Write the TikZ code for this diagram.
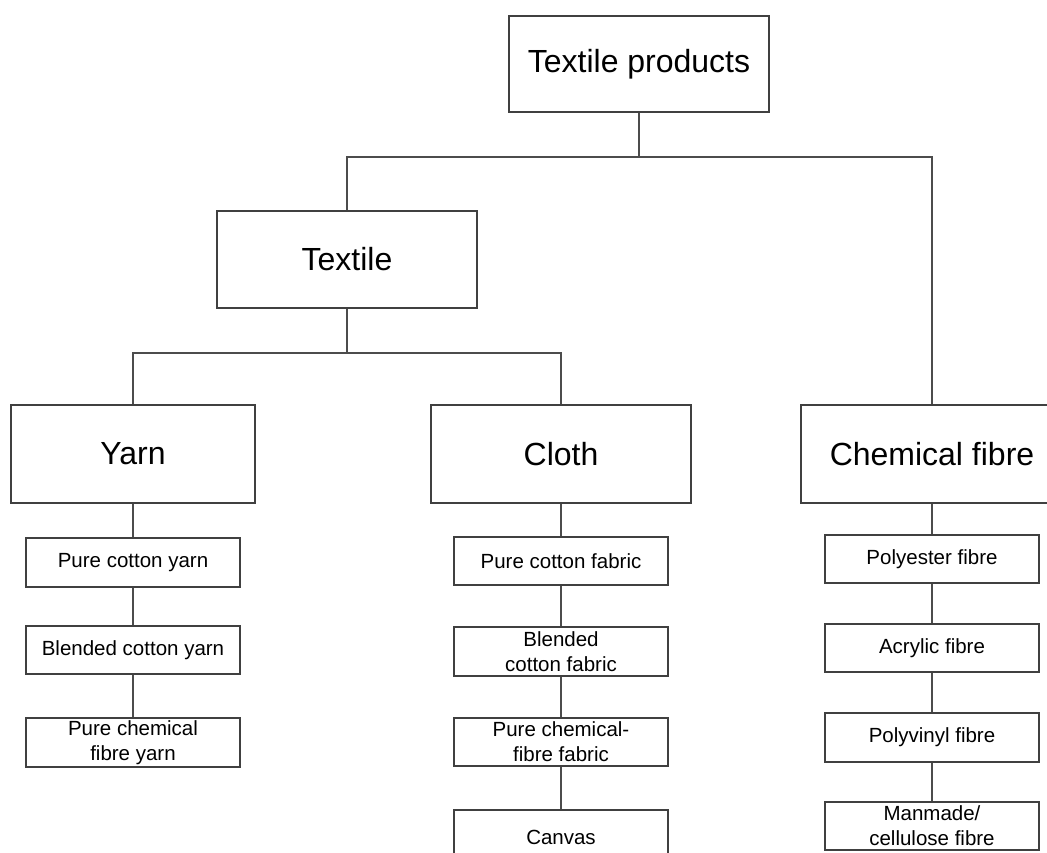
\documentclass[tikz,border=0pt]{standalone}
\usepackage{fontspec}
\setmainfont{Liberation Sans}
\begin{document}
\begin{tikzpicture}[x=1pt,y=-1pt,
  box/.style={draw=black!75,line width=1.1pt,rectangle,inner sep=0pt,align=center,fill=white},
  bigbox/.style={box,font=\fontsize{32}{38}\selectfont},
  smallbox/.style={box,font=\fontsize{20.5}{25}\selectfont,minimum width=214pt,minimum height=48pt},
  link/.style={draw=black!70,line width=1.1pt}]
\useasboundingbox (0,0) rectangle (1047,852);
\clip (0,0) rectangle (1047,852);
\fill[white] (0,0) rectangle (1047,852);

% upper levels
\node[bigbox,minimum width=260pt,minimum height=96pt] (top) at (639,64) {Textile products};
\node[bigbox,minimum width=260pt,minimum height=97pt] (textile) at (347,259.5) {Textile};
\node[bigbox,minimum width=244pt,minimum height=98pt] (yarn) at (133,454) {Yarn};
\node[bigbox,minimum width=260pt,minimum height=98pt] (cloth) at (561,454) {Cloth};
\node[bigbox,minimum width=262pt,minimum height=98pt] (chem) at (932,454) {Chemical fibre};

% yarn column
\node[smallbox,minimum height=49pt] (y1) at (133,562.5) {Pure cotton yarn};
\node[smallbox] (y2) at (133,650) {Blended cotton yarn};
\node[smallbox,minimum height=49pt] (y3) at (133,742.5) {Pure chemical\\fibre yarn};

% cloth column
\node[smallbox] (c1) at (561,561) {Pure cotton fabric};
\node[smallbox,minimum height=49pt] (c2) at (561,651.5) {Blended\\cotton fabric};
\node[smallbox] (c3) at (561,742) {Pure chemical-\\fibre fabric};
\node[smallbox,minimum height=54pt] (c4) at (561,837) {Canvas};

% chemical fibre column
\node[smallbox] (f1) at (932,559) {Polyester fibre};
\node[smallbox] (f2) at (932,648) {Acrylic fibre};
\node[smallbox,minimum height=49pt] (f3) at (932,737.5) {Polyvinyl fibre};
\node[smallbox] (f4) at (932,826) {Manmade/\\cellulose fibre};

% junctions of the tree
\coordinate (j1) at (639,157);
\coordinate (j2) at (347,353);

\draw[link] (top.south) -- (j1);
\draw[link] (textile.north) -- (textile.north |- j1) -- (chem.north |- j1) -- (chem.north);
\draw[link] (textile.south) -- (j2);
\draw[link] (yarn.north) -- (yarn.north |- j2) -- (cloth.north |- j2) -- (cloth.north);

\draw[link] (yarn.south) -- (y1.north);
\draw[link] (y1.south) -- (y2.north);
\draw[link] (y2.south) -- (y3.north);

\draw[link] (cloth.south) -- (c1.north);
\draw[link] (c1.south) -- (c2.north);
\draw[link] (c2.south) -- (c3.north);
\draw[link] (c3.south) -- (c4.north);

\draw[link] (chem.south) -- (f1.north);
\draw[link] (f1.south) -- (f2.north);
\draw[link] (f2.south) -- (f3.north);
\draw[link] (f3.south) -- (f4.north);
\end{tikzpicture}
\end{document}
